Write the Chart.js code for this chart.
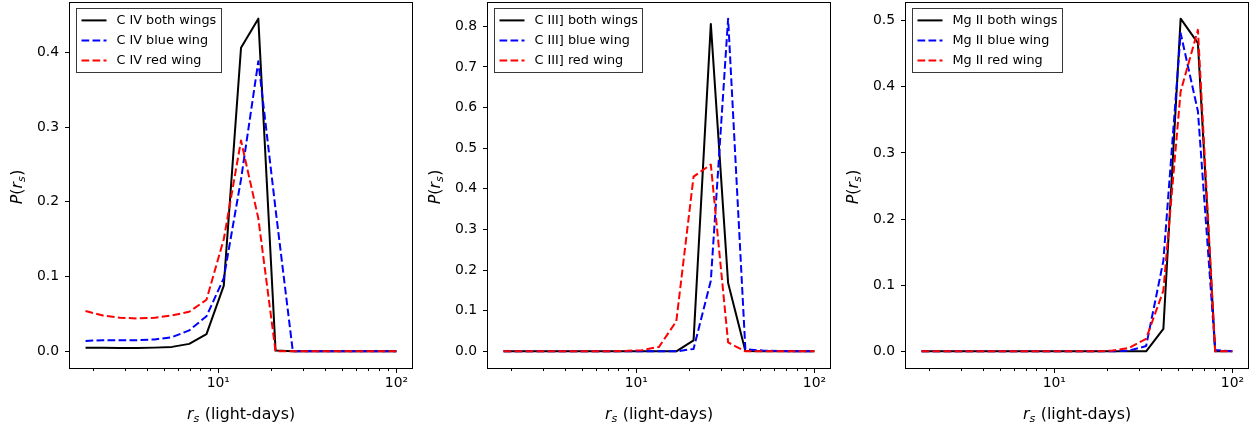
<!DOCTYPE html>
<html>
<head>
<meta charset="utf-8">
<script src="https://cdn.jsdelivr.net/npm/chart.js@4/dist/chart.umd.min.js"></script>
<style>
  html, body { margin: 0; padding: 0; background: #fff; }
  #fig { position: relative; width: 1257px; height: 429px; }
  .pan { position: absolute; top: 0; width: 418px; height: 429px; }
</style>
</head>
<body>
<div id="fig">
  <div class="pan" style="left:0px"><canvas id="g1" width="418" height="429"></canvas></div>
  <div class="pan" style="left:418px"><canvas id="g2" width="418" height="429"></canvas></div>
  <div class="pan" style="left:836px"><canvas id="g3" width="418" height="429"></canvas></div>
</div>
<script>
// rayons r_s (jours-lumiere), grille log
var rs = [1.80, 2.25, 2.81, 3.52, 4.40, 5.50, 6.87, 8.59, 10.74, 13.42, 16.78, 20.97, 26.21, 32.77, 40.96, 51.2, 64, 80, 100];

// C IV
var civBoth = [0.005, 0.005, 0.0045, 0.0045, 0.005, 0.006, 0.010, 0.023, 0.088, 0.406, 0.445, 0.001, 0, 0, 0, 0, 0, 0, 0];
var civBlue = [0.014, 0.015, 0.015, 0.015, 0.016, 0.019, 0.028, 0.047, 0.098, 0.23, 0.388, 0.19, 0, 0, 0, 0, 0, 0, 0];
var civRed  = [0.054, 0.048, 0.045, 0.044, 0.045, 0.048, 0.053, 0.069, 0.15, 0.282, 0.178, 0, 0, 0, 0, 0, 0, 0, 0];
// C III]
var ciiiBoth = [0, 0, 0, 0, 0, 0, 0, 0, 0, 0, 0, 0.027, 0.806, 0.168, 0.001, 0, 0, 0, 0];
var ciiiBlue = [0, 0, 0, 0, 0, 0, 0, 0, 0, 0, 0, 0.006, 0.174, 0.819, 0.005, 0.002, 0.001, 0, 0];
var ciiiRed  = [0, 0, 0, 0, 0, 0, 0, 0.001, 0.003, 0.011, 0.074, 0.43, 0.46, 0.022, 0, 0, 0, 0, 0];
// Mg II
var mgiiBoth = [0, 0, 0, 0, 0, 0, 0, 0, 0, 0, 0, 0, 0, 0, 0.034, 0.503, 0.466, 0, 0];
var mgiiBlue = [0, 0, 0, 0, 0, 0, 0, 0, 0, 0, 0, 0, 0.001, 0.008, 0.137, 0.481, 0.363, 0.002, 0];
var mgiiRed  = [0, 0, 0, 0, 0, 0, 0, 0, 0, 0, 0, 0.001, 0.005, 0.019, 0.092, 0.393, 0.486, 0, 0];

// graduations
var xMajor = [10, 100];
var xMajorLabels = ["10\u00b9", "10\u00b2"];
var xMinor = [2, 3, 4, 5, 6, 7, 8, 9, 20, 30, 40, 50, 60, 70, 80, 90];
var yTicks1 = [0, 0.1, 0.2, 0.3, 0.4];
var yTicks2 = [0, 0.1, 0.2, 0.3, 0.4, 0.5, 0.6, 0.7, 0.8];
var yTicks3 = [0, 0.1, 0.2, 0.3, 0.4, 0.5];

var NOIR = "#000000", BLEU = "#0000ff", ROUGE = "#ff0000";
var TIRET = [7.7, 3.3];
var FONTE = "'DejaVu Sans'";
var TITRE = 15.8;

Chart.defaults.font.family = FONTE;
Chart.defaults.font.size = 13.9;
Chart.defaults.color = "#000";

// texte avec italique / indice facon mathtext
function riche(ctx, parts, x, y, taille) {
  var w = 0;
  parts.forEach(function (p) {
    var t = p.sub ? taille * 0.7 : taille;
    ctx.font = (p.it ? "italic " : "") + t + "px " + FONTE;
    p.w = ctx.measureText(p.t).width; w += p.w + (p.sub ? 0.5 : 0);
  });
  var cx = x - w / 2;
  ctx.textAlign = "left"; ctx.textBaseline = "alphabetic"; ctx.fillStyle = "#000";
  parts.forEach(function (p) {
    var t = p.sub ? taille * 0.7 : taille;
    ctx.font = (p.it ? "italic " : "") + t + "px " + FONTE;
    ctx.fillText(p.t, cx, y + (p.sub ? 0.19 * taille : 0));
    cx += p.w + (p.sub ? 0.5 : 0);
  });
}

var decor = {
  id: "decor",
  afterDraw: function (chart) {
    var ctx = chart.ctx, a = chart.chartArea;
    ctx.save();
    // cadre des axes
    ctx.strokeStyle = "#000"; ctx.lineWidth = 1;
    ctx.strokeRect(Math.round(a.left) - 0.5, Math.round(a.top) + 0.5, Math.round(a.right - a.left) + 1, Math.round(a.bottom - a.top));
    // titres des axes
    riche(ctx, [{ t: "r", it: true }, { t: "s", it: true, sub: true }, { t: " (light-days)" }], (a.left + a.right) / 2, 419, TITRE);
    ctx.save();
    ctx.translate(21.5, (a.top + a.bottom) / 2 + 2);
    ctx.rotate(-Math.PI / 2);
    riche(ctx, [{ t: "P", it: true }, { t: "(" }, { t: "r", it: true }, { t: "s", it: true, sub: true }, { t: ")" }], 0, 0, TITRE);
    ctx.restore();
    // legende
    var ds = chart.data.datasets, fs = 12.8;
    ctx.font = fs + "px " + FONTE;
    var tw = 0;
    ds.forEach(function (d) { tw = Math.max(tw, ctx.measureText(d.label).width); });
    var bx = Math.round(a.left) + 6.5, by = Math.round(a.top) + 6.5;
    var bw = Math.round(5 + 25 + 10 + tw + 5), bh = 64;
    ctx.fillStyle = "rgba(255,255,255,0.8)";
    ctx.fillRect(bx, by, bw, bh);
    ctx.strokeStyle = "rgba(0,0,0,0.78)"; ctx.lineWidth = 1;
    ctx.strokeRect(bx, by, bw, bh);
    ds.forEach(function (d, i) {
      var cy = by + 5 + 6.9 + i * 20.05;
      ctx.beginPath();
      ctx.setLineDash(d.borderDash || []);
      ctx.strokeStyle = d.borderColor; ctx.lineWidth = d.borderWidth;
      ctx.moveTo(bx + 5, cy); ctx.lineTo(bx + 30, cy); ctx.stroke();
      ctx.setLineDash([]);
      ctx.fillStyle = "#000"; ctx.textAlign = "left"; ctx.textBaseline = "middle";
      ctx.font = fs + "px " + FONTE;
      ctx.fillText(d.label, bx + 40, cy + 0.5);
    });
    ctx.restore();
  }
};

function panneau(id, series, yTicks) {
  var ymax = 0;
  series.forEach(function (s) { ymax = Math.max(ymax, Math.max.apply(null, s.y)); });
  var lo = Math.log10(rs[0]), hi = Math.log10(rs[rs.length - 1]), m = 0.05 * (hi - lo);
  new Chart(document.getElementById(id), {
    type: "line",
    data: {
      datasets: series.map(function (s, i) {
        return {
          label: s.label,
          data: rs.map(function (x, k) { return { x: x, y: s.y[k] }; }),
          borderColor: s.c, borderWidth: 2, borderDash: s.d,
          borderJoinStyle: "round", pointRadius: 0, tension: 0, fill: false,
          order: series.length - i
        };
      })
    },
    options: {
      responsive: false, animation: false, devicePixelRatio: 1,
      layout: { padding: { top: 2, right: 6, left: 0, bottom: 0 } },
      plugins: { legend: { display: false }, tooltip: { enabled: false } },
      scales: {
        x: {
          type: "logarithmic", bounds: "data",
          min: Math.pow(10, lo - m), max: Math.pow(10, hi + m),
          afterBuildTicks: function (sc) {
            sc.ticks = xMinor.concat(xMajor).sort(function (a, b) { return a - b; }).map(function (v) { return { value: v }; });
          },
          afterFit: function (sc) { sc.height = 61; sc.paddingLeft = 0; sc.paddingRight = 0; },
          ticks: {
            autoSkip: false, maxRotation: 0, padding: 2,
            callback: function (v) { var j = xMajor.indexOf(v); return j < 0 ? "" : xMajorLabels[j]; }
          },
          grid: {
            drawOnChartArea: false, tickLength: 5, tickColor: "#000", tickWidth: 1,
            tickBorderDash: function (c) { return (c.tick && xMajor.indexOf(c.tick.value) < 0) ? [3, 20] : []; }
          },
          border: { display: false }
        },
        y: {
          bounds: "data", min: -0.05 * ymax, max: 1.05 * ymax,
          afterBuildTicks: function (sc) { sc.ticks = yTicks.map(function (v) { return { value: v }; }); },
          afterFit: function (sc) { sc.width = 70; sc.paddingTop = 0; sc.paddingBottom = 0; },
          ticks: { padding: 6, callback: function (v) { return v.toFixed(1); } },
          grid: { drawOnChartArea: false, tickLength: 5, tickColor: "#000", tickWidth: 1 },
          border: { display: false }
        }
      }
    },
    plugins: [decor]
  });
}

panneau("g1", [
  { label: "C IV both wings", y: civBoth, c: NOIR, d: [] },
  { label: "C IV blue wing", y: civBlue, c: BLEU, d: TIRET },
  { label: "C IV red wing", y: civRed, c: ROUGE, d: TIRET }
], yTicks1);
panneau("g2", [
  { label: "C III] both wings", y: ciiiBoth, c: NOIR, d: [] },
  { label: "C III] blue wing", y: ciiiBlue, c: BLEU, d: TIRET },
  { label: "C III] red wing", y: ciiiRed, c: ROUGE, d: TIRET }
], yTicks2);
panneau("g3", [
  { label: "Mg II both wings", y: mgiiBoth, c: NOIR, d: [] },
  { label: "Mg II blue wing", y: mgiiBlue, c: BLEU, d: TIRET },
  { label: "Mg II red wing", y: mgiiRed, c: ROUGE, d: TIRET }
], yTicks3);
</script>
</body>
</html>
